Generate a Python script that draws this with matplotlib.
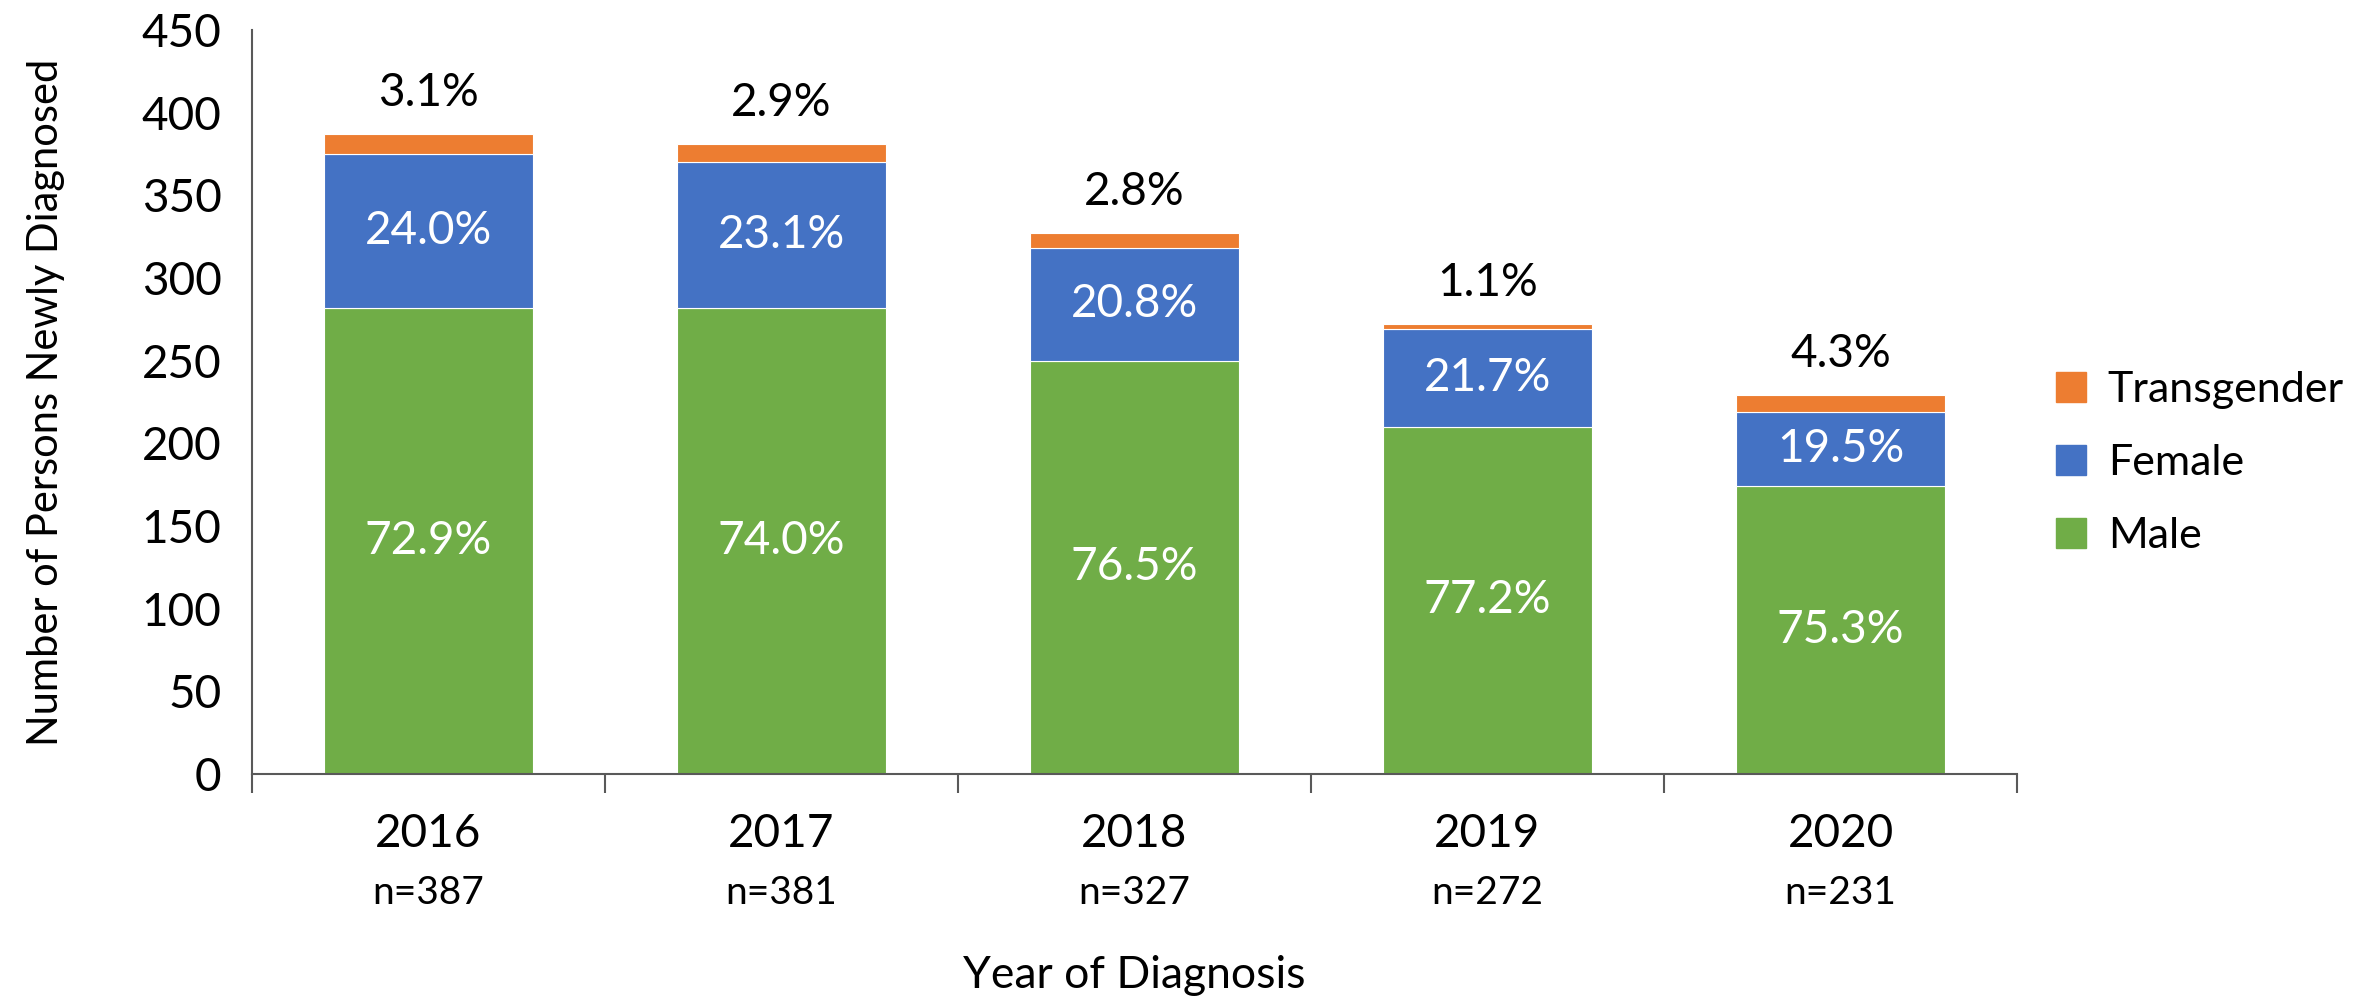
import numpy as np
import matplotlib.pyplot as plt
from matplotlib.patches import Patch

years = ['2016', '2017', '2018', '2019', '2020']
n_total = [387, 381, 327, 272, 231]
male = [282, 282, 250, 210, 174]
female = [93, 88, 68, 59, 45]
trans = [12, 11, 9, 3, 10]
male_pct = ['72.9%', '74.0%', '76.5%', '77.2%', '75.3%']
female_pct = ['24.0%', '23.1%', '20.8%', '21.7%', '19.5%']
trans_pct = ['3.1%', '2.9%', '2.8%', '1.1%', '4.3%']

green = '#70AD47'
blue = '#4472C4'
orange = '#ED7D31'

plt.rcParams['font.family'] = ['Lato', 'DejaVu Sans']

fig = plt.figure(figsize=(23.69, 9.98), dpi=100)
ax = fig.add_axes([252 / 2369, 1 - 774 / 998, (2017 - 252) / 2369, (774 - 30) / 998])

x = np.arange(len(years))
w = 0.59
male = np.array(male)
female = np.array(female)
trans = np.array(trans)
ax.bar(x, male, w, color=green, edgecolor='white', linewidth=0.8)
ax.bar(x, female, w, bottom=male, color=blue, edgecolor='white', linewidth=0.8)
ax.bar(x, trans, w, bottom=male + female, color=orange, edgecolor='white', linewidth=0.8)

for i in range(len(years)):
    ax.text(x[i], male[i] / 2, male_pct[i], ha='center', va='center', color='white', fontsize=33)
    ax.text(x[i], male[i] + female[i] / 2, female_pct[i], ha='center', va='center', color='white', fontsize=33)
    top = male[i] + female[i] + trans[i]
    ax.text(x[i], top + 25, trans_pct[i], ha='center', va='center', color='black', fontsize=33)

ax.set_xlim(-0.5, len(years) - 0.5)
ax.set_ylim(0, 450)
ax.set_yticks(range(0, 451, 50))
ax.tick_params(axis='y', length=0, labelsize=33, pad=22)

ax.set_xticks(np.arange(-0.5, len(years), 1.0))
ax.set_xticklabels([])
ax.tick_params(axis='x', length=14, color='#595959', width=1.5, direction='out')
for i in range(len(years)):
    ax.text(x[i], -0.08, years[i], transform=ax.get_xaxis_transform(), ha='center', va='center', fontsize=33)
    ax.text(x[i], -0.16, 'n=' + str(n_total[i]), transform=ax.get_xaxis_transform(), ha='center', va='center', fontsize=28)

for s in ['top', 'right']:
    ax.spines[s].set_visible(False)
for s in ['left', 'bottom']:
    ax.spines[s].set_color('#595959')
    ax.spines[s].set_linewidth(1.5)

ax.set_ylabel('Number of Persons Newly Diagnosed', fontsize=30)
ax.yaxis.set_label_coords(-0.106, 0.5)
fig.text((252 + 2017) / 2 / 2369, 1 - 975 / 998, 'Year of Diagnosis', ha='center', va='center', fontsize=32)

handles = [Patch(color=orange, label='Transgender'), Patch(color=blue, label='Female'), Patch(color=green, label='Male')]
fig.legend(handles=handles, loc='center left', bbox_to_anchor=(2056 / 2369, 1 - 463 / 998), frameon=False,
           fontsize=31, handlelength=0.7, handleheight=0.7, handletextpad=0.5, labelspacing=0.82,
           borderpad=0, borderaxespad=0)

fig.savefig('out.png', dpi=100)
